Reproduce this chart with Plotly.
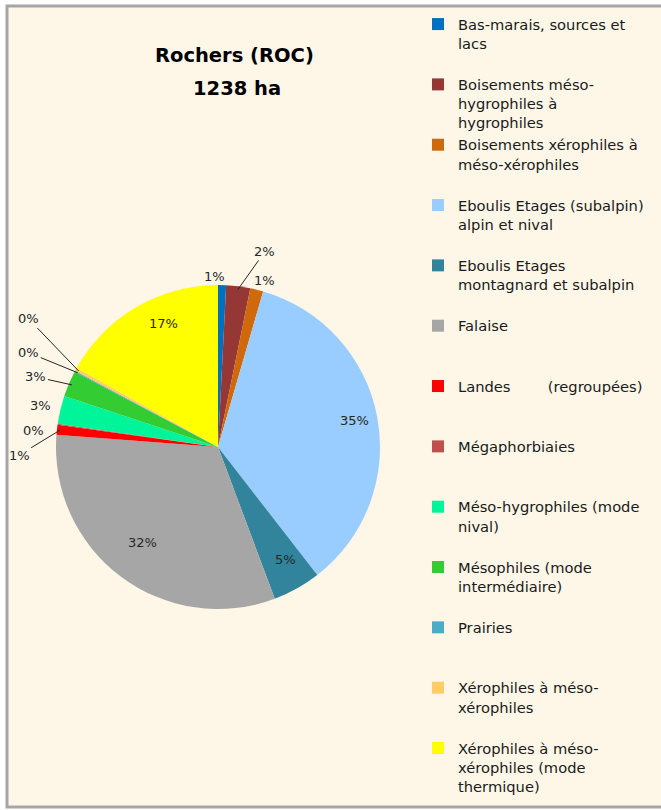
"""
Camembert des milieux - Rochers (ROC)
"""
import math
import plotly.graph_objects as go

W, H = 661, 810

categories = [
    'Bas-marais, sources et<br>lacs',
    'Boisements méso-<br>hygrophiles à<br>hygrophiles',
    'Boisements xérophiles à<br>méso-xérophiles',
    'Eboulis Etages (subalpin)<br>alpin et nival',
    'Eboulis Etages<br>montagnard et subalpin',
    'Falaise',
    'Landes\u00a0\u00a0\u00a0\u00a0\u00a0\u00a0\u00a0\u00a0(regroupées)',
    'Mégaphorbiaies',
    'Méso-hygrophiles (mode<br>nival)',
    'Mésophiles (mode<br>intermédiaire)',
    'Prairies',
    'Xérophiles à méso-<br>xérophiles',
    'Xérophiles à méso-<br>xérophiles (mode<br>thermique)',
]
values = [0.8, 2.4, 1.3, 35.0, 4.8, 31.9, 1.0, 0.1, 2.8, 2.6, 0.1, 0.3, 16.9]
colors = ['#0070C0', '#953735', '#D0680C', '#99CCFF', '#31849B', '#A6A6A6',
          '#FF0000', '#C0504D', '#00F59A', '#33CC33', '#4BACC6', '#FFCC66',
          '#FFFF00']

# placement des étiquettes : décalage (px) depuis le bord de la part, trait de rappel
label_offsets = {
    0: (-7, -12, False),
    1: (27, -38, True),
    2: (8, -12, False),
    6: (-41, 25, True),
    7: (-27, 6, False),
    8: (-23, -5, False),
    9: (-36, -8, True),
    10: (-49, -20, True),
    11: (-50, -52, True),
}
# parts assez grandes : étiquette dans la part (décalage px)
inside_offsets = {3: (0, 0), 4: (0, 0), 5: (-8, -6), 12: (0, -3)}

total = sum(values)
pct = [v / total * 100 for v in values]

# chaque entrée de légende sur 3 lignes pour un pas régulier
legend_labels = []
for c in categories:
    n = c.count('<br>') + 1
    legend_labels.append(c + '<br>\u00a0' * (3 - n))

# géométrie du camembert (px)
cx, cy, R = 218, 447, 162
dom_x = [(cx - R) / W, (cx + R) / W]
dom_y = [1 - (cy + R) / H, 1 - (cy - R) / H]

fig = go.Figure(go.Pie(
    labels=legend_labels,
    values=values,
    marker=dict(colors=colors, line=dict(width=0)),
    sort=False,
    direction='clockwise',
    rotation=0,
    textinfo='none',
    domain=dict(x=dom_x, y=dom_y),
    hoverinfo='label+percent',
))

label_font = dict(family='DejaVu Sans', size=13, color='#262626')
annotations = []
cum = 0
for i, v in enumerate(values):
    mid = (cum + v / 2) / total * 2 * math.pi
    cum += v
    if i in inside_offsets:
        dx, dy = inside_offsets[i]
        px = cx + R * 0.86 * math.sin(mid) + dx
        py = cy - R * 0.86 * math.cos(mid) + dy
        annotations.append(dict(
            x=px / W, y=1 - py / H, xref='paper', yref='paper',
            text=f'{round(pct[i])}%', showarrow=False, font=label_font,
        ))
    elif i in label_offsets:
        ax, ay, leader = label_offsets[i]
        px = cx + R * 0.98 * math.sin(mid)
        py = cy - R * 0.98 * math.cos(mid)
        annotations.append(dict(
            x=px / W, y=1 - py / H, xref='paper', yref='paper',
            text=f'{round(pct[i])}%', showarrow=True, arrowhead=0,
            arrowwidth=1, arrowcolor='#262626' if leader else 'rgba(0,0,0,0)',
            ax=ax, ay=ay, font=label_font,
        ))

# titre sur deux lignes
title_font = dict(family='DejaVu Sans', size=19.5, color='#000000')
annotations.append(dict(x=235 / W, y=1 - 56 / H, xref='paper', yref='paper',
                        yanchor='middle', text='<b>Rochers (ROC)</b>',
                        showarrow=False, font=title_font))
annotations.append(dict(x=237 / W, y=1 - 89 / H, xref='paper', yref='paper',
                        yanchor='middle', text='<b>1238 ha</b>',
                        showarrow=False, font=title_font))

fig.update_layout(
    width=W, height=H,
    margin=dict(l=0, r=0, t=0, b=0),
    paper_bgcolor='white',
    font=dict(family='DejaVu Sans', size=14.7, color='#1a1a1a'),
    showlegend=True,
    legend=dict(
        x=418 / W, xanchor='left', y=1 - 8 / H, yanchor='top',
        valign='top', bgcolor='rgba(0,0,0,0)',
        font=dict(family='DejaVu Sans', size=14.7, color='#1a1a1a'),
    ),
    shapes=[dict(
        type='rect', xref='paper', yref='paper', layer='below',
        x0=7 / W, x1=1.02, y0=1 - 807 / H, y1=1 - 6 / H,
        fillcolor='#FEF7E8', line=dict(color='#A6A6A6', width=3),
    )],
    annotations=annotations,
)

fig.write_html('out.html', config={'displayModeBar': False},
               post_script="document.body.style.margin = '0';")
